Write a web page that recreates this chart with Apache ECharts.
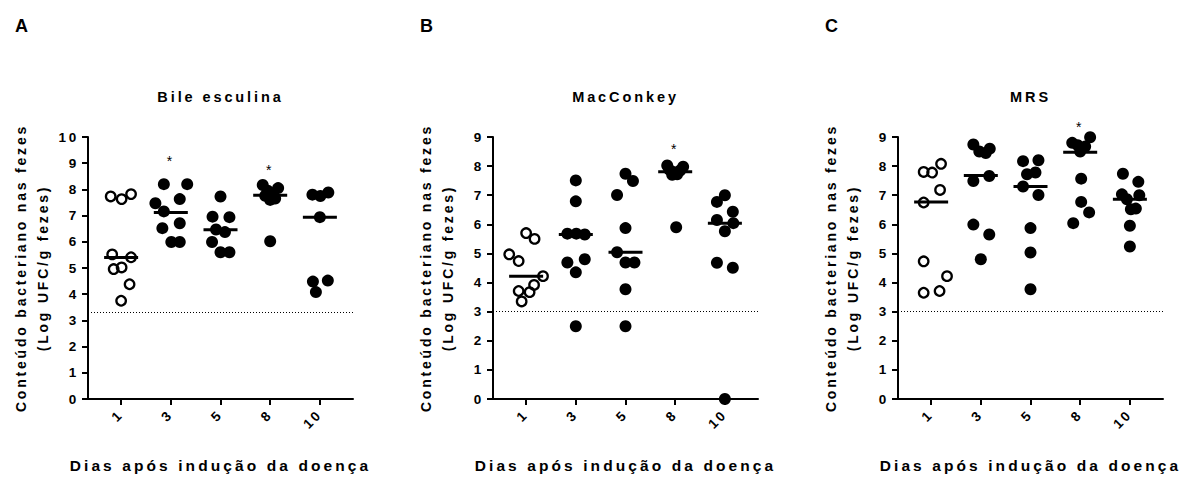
<!DOCTYPE html>
<html><head><meta charset="utf-8">
<script src="https://cdn.jsdelivr.net/npm/echarts@6/dist/echarts.min.js"></script>
<style>
html,body{margin:0;padding:0;background:#fff;}
#chart{width:1181px;height:478px;}
#chart svg text{letter-spacing:0.2em;}
</style></head><body><div id="chart"></div>
<script>
// ---------- data ----------
const days = ['1', '3', '5', '8', '10'];
const panelLetters = ['A', 'B', 'C'];
const panelTitles = ['Bile esculina', 'MacConkey', 'MRS'];
const yAxisTitle = 'Conteúdo bacteriano nas fezes\n(Log UFC/g fezes)';
const xAxisTitle = 'Dias após indução da doença';
const yMax = [10, 9, 9];
const detectionLimit = [3.3, 3, 3];

// Bile esculina (Log UFC/g fezes), one array per day
const bileD1 = [7.73, 7.63, 7.82, 5.52, 5.41, 4.96, 5.02, 4.38, 3.75];
const bileD3 = [8.2, 8.2, 7.47, 7.63, 7.16, 6.52, 6.71, 5.99, 5.99];
const bileD5 = [7.73, 6.96, 6.94, 6.47, 6.37, 5.99, 5.6, 5.6];
const bileD8 = [8.17, 8.05, 7.95, 7.85, 7.76, 7.65, 7.6, 6.02];
const bileD10 = [7.8, 7.75, 7.88, 6.94, 4.48, 4.52, 4.08];
// horizontal spread of the dots inside each day group (in day-slot units)
const bileD1Spread = [-0.21, 0.01, 0.2, -0.18, 0.2, -0.15, 0.01, 0.17, 0];
const bileD3Spread = [-0.14, 0.33, -0.31, 0.18, -0.14, -0.17, 0.18, 0.01, 0.18];
const bileD5Spread = [0, -0.16, 0.18, -0.09, 0.09, -0.17, 0, 0.18];
const bileD8Spread = [-0.15, 0.16, -0.05, 0.06, -0.1, 0.1, 0, 0];
const bileD10Spread = [-0.15, 0.01, 0.17, 0, -0.14, 0.16, -0.08];
const bileMedian = [5.40, 7.12, 6.46, 7.78, 6.94];
const bileStars = [['3', 9.25], ['8', 8.9]];

// MacConkey
const macD1 = [4.97, 4.74, 5.70, 5.5, 4.22, 3.92, 3.67, 3.71, 3.35];
const macD3 = [7.51, 6.79, 5.68, 5.68, 5.65, 4.69, 4.8, 4.35, 2.5];
const macD5 = [7.74, 7.49, 7.01, 5.87, 5.04, 4.69, 4.69, 3.77, 2.5];
const macD8 = [8.02, 7.98, 7.88, 7.85, 7.8, 7.72, 7.7, 5.9];
const macD10 = [7.0, 6.77, 6.43, 6.15, 6.04, 5.76, 4.68, 4.51, 0];
const macD1Spread = [-0.34, -0.15, 0, 0.17, 0.34, 0.16, 0.07, -0.15, -0.09];
const macD3Spread = [0, 0, -0.17, 0.01, 0.18, -0.17, 0.18, 0, 0];
const macD5Spread = [0, 0.15, -0.17, 0, -0.17, 0, 0.18, 0, 0];
const macD8Spread = [-0.16, 0.16, -0.12, 0.1, -0.04, 0.04, -0.06, 0.02];
const macD10Spread = [0, -0.16, 0.16, -0.16, 0.17, 0, -0.16, 0.16, 0];
const macMedian = [4.22, 5.65, 5.04, 7.81, 6.04];
const macStars = [['8', 8.74]];

// MRS
const mrsD1 = [7.8, 7.78, 8.08, 7.18, 6.75, 4.73, 4.22, 3.65, 3.71];
const mrsD3 = [8.74, 8.5, 8.45, 8.6, 7.49, 7.66, 5.99, 5.65, 4.8];
const mrsD5 = [8.17, 8.2, 7.72, 7.78, 7.3, 7.01, 5.87, 5.03, 3.77];
const mrsD8 = [8.8, 8.72, 8.67, 8.99, 8.5, 7.57, 6.77, 6.41, 6.04];
const mrsD10 = [7.74, 7.46, 7.03, 7.0, 6.86, 6.52, 6.54, 5.95, 5.24];
const mrsD1Spread = [-0.15, 0.02, 0.2, 0.18, -0.15, -0.15, 0.32, -0.15, 0.17];
const mrsD3Spread = [-0.15, -0.03, 0.1, 0.18, -0.15, 0.17, -0.15, 0.17, 0];
const mrsD5Spread = [-0.15, 0.16, -0.07, 0.1, -0.15, 0.16, 0, 0, 0];
const mrsD8Spread = [-0.16, -0.05, 0.1, 0.2, 0, 0.02, 0.02, 0.18, -0.14];
const mrsD10Spread = [-0.14, 0.17, -0.16, 0.19, -0.06, 0.02, 0.12, 0, 0];
const mrsMedian = [6.77, 7.68, 7.3, 8.48, 6.86];
const mrsStars = [['8', 9.49]];

const panelValues = [
  [bileD1, bileD3, bileD5, bileD8, bileD10],
  [macD1, macD3, macD5, macD8, macD10],
  [mrsD1, mrsD3, mrsD5, mrsD8, mrsD10]
];
const panelSpread = [
  [bileD1Spread, bileD3Spread, bileD5Spread, bileD8Spread, bileD10Spread],
  [macD1Spread, macD3Spread, macD5Spread, macD8Spread, macD10Spread],
  [mrsD1Spread, mrsD3Spread, mrsD5Spread, mrsD8Spread, mrsD10Spread]
];
const panelMedians = [bileMedian, macMedian, mrsMedian];
const panelStars = [bileStars, macStars, mrsStars];

// ---------- layout / style ----------
const FONT = '"Liberation Sans", Arial, Helvetica, sans-serif';
const gridLeft = [88, 493, 898];
const gridTop = 137, gridW = 265, gridH = 265;
const slots = days.map((d, i) => i + 1);

const grid = [], xAxis = [], yAxis = [], series = [], title = [];
for (let p = 0; p < 3; p++) {
  grid.push({ left: gridLeft[p], top: gridTop, width: gridW, height: gridH, containLabel: false });
  title.push({
    text: panelLetters[p], left: gridLeft[p] - 73, top: 17, padding: 0,
    textStyle: { fontFamily: FONT, fontSize: 18, fontWeight: 'bold', color: '#000' }
  });
  title.push({
    text: panelTitles[p], left: gridLeft[p] + gridW / 2, top: 89, padding: 0, textAlign: 'center',
    textStyle: { fontFamily: FONT, fontSize: 14.5, fontWeight: 'bold', color: '#000' }
  });
  xAxis.push({
    gridIndex: p, type: 'value', min: 1 / 3, max: 17 / 3,
    axisLine: { show: true, onZero: false, lineStyle: { color: '#000', width: 2 } },
    axisTick: { show: true, customValues: slots, length: 6, lineStyle: { color: '#000', width: 2 } },
    axisLabel: {
      show: true, customValues: slots, rotate: 45, margin: 13,
      formatter: v => days[Math.round(v) - 1],
      fontFamily: FONT, fontSize: 13.5, fontWeight: 'bold', color: '#000'
    },
    splitLine: { show: false },
    name: xAxisTitle, nameLocation: 'middle', nameGap: 58,
    nameTextStyle: { fontFamily: FONT, fontSize: 15.5, fontWeight: 'bold', color: '#000' }
  });
  yAxis.push({
    gridIndex: p, type: 'value', min: 0, max: yMax[p], interval: 1,
    axisLine: { show: true, lineStyle: { color: '#000', width: 2 } },
    axisTick: { show: true, length: 6, lineStyle: { color: '#000', width: 2 } },
    axisLabel: { fontFamily: FONT, fontSize: 13.5, fontWeight: 'bold', color: '#000', margin: 9 },
    splitLine: { show: false },
    name: yAxisTitle, nameLocation: 'middle', nameGap: 34, nameRotate: 90,
    nameTextStyle: { fontFamily: FONT, fontSize: 14, fontWeight: 'bold', color: '#000', lineHeight: 22 }
  });

  const vals = panelValues[p], spr = panelSpread[p];
  // day 1: open circles
  series.push({
    type: 'scatter', xAxisIndex: p, yAxisIndex: p, z: 3, clip: false, color: '#000',
    symbol: 'circle', symbolSize: 9.5,
    itemStyle: { color: 'rgba(255,255,255,0)', borderColor: '#000', borderWidth: 2.3, opacity: 1 },
    data: vals[0].map((v, i) => [1 + spr[0][i], v])
  });
  // other days: filled circles
  const filled = [];
  for (let d = 1; d < days.length; d++) {
    vals[d].forEach((v, i) => filled.push([d + 1 + spr[d][i], v]));
  }
  series.push({
    type: 'scatter', xAxisIndex: p, yAxisIndex: p, z: 3, clip: false, color: '#000',
    symbol: 'circle', symbolSize: 12,
    itemStyle: { color: '#000', opacity: 1 },
    data: filled
  });
  // medians + detection limit
  series.push({
    type: 'scatter', xAxisIndex: p, yAxisIndex: p, z: 4, clip: false, color: '#000',
    symbol: 'rect', symbolSize: [34, 3],
    itemStyle: { color: '#000', opacity: 1 },
    data: panelMedians[p].map((m, d) => [d + 1, m]),
    markLine: {
      silent: true, symbol: 'none', animation: false,
      label: { show: false },
      lineStyle: { color: '#000', width: 1, type: [1, 2], opacity: 1 },
      data: [{ yAxis: detectionLimit[p] }]
    }
  });
  // significance asterisks
  series.push({
    type: 'scatter', xAxisIndex: p, yAxisIndex: p, z: 5, clip: false, color: '#000',
    symbol: 'circle', symbolSize: 0, itemStyle: { color: '#000', opacity: 1 },
    label: {
      show: true, position: 'inside', formatter: '*', offset: [0, 4],
      fontFamily: FONT, fontSize: 14, color: '#000', textBorderWidth: 0, textShadowBlur: 0
    },
    data: panelStars[p].map(s => [days.indexOf(s[0]) + 1, s[1]])
  });
}

const chart = echarts.init(document.getElementById('chart'), null, { renderer: 'svg' });
chart.setOption({
  animation: false,
  backgroundColor: '#fff',
  color: ['#000'],
  title, grid, xAxis, yAxis, series
});
</script></body></html>
